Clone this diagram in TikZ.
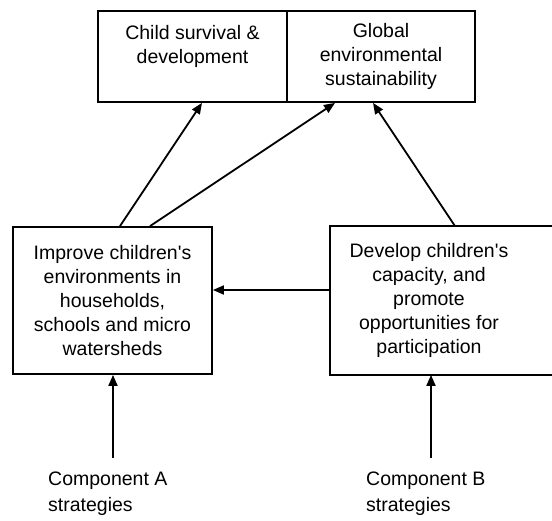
\documentclass[tikz,border=0pt]{standalone}
\usepackage{fontspec}
\setmainfont{Liberation Sans}
\usetikzlibrary{arrows.meta}
\tikzset{
  goalbox/.style={draw, line width=1.8pt, minimum height=91pt, inner sep=0pt,
    align=center, font=\fontsize{19.5}{24}\selectfont},
  aimbox/.style={line width=1.8pt, minimum height=147pt, inner sep=0pt,
    align=center, font=\fontsize{19.5}{24}\selectfont},
  complabel/.style={anchor=north west, inner sep=0pt, align=left,
    font=\fontsize{19.5}{26}\selectfont},
  flow/.style={line width=1.8pt, -{Triangle[length=11pt,width=9pt]}}
}
\begin{document}
\begin{tikzpicture}[x=1pt,y=-1pt]
\useasboundingbox (0,0) rectangle (552,521);

\node[goalbox, minimum width=189pt] (child) at (192.5,56.5) {Child survival \&\\development\\\mbox{}};
\node[goalbox, minimum width=188pt] (global) at (381,56.5) {Global\\environmental\\sustainability};

\node[aimbox, draw, minimum width=199pt] (impA) at (112.5,300.5) {Improve children\textquotesingle s\\environments in\\households,\\schools and micro\\watersheds};
\node[aimbox, minimum width=196pt] (devB) at (429,300.5) {Develop children\textquotesingle s\\capacity, and\\promote\\opportunities for\\participation};
\draw[line width=1.8pt] ([xshift=24pt]devB.north east) -- (devB.north west)
  -- (devB.south west) -- ([xshift=24pt]devB.south east);

\node[complabel] (compA) at (48,472) {Component A\\strategies};
\node[complabel] (compB) at (366,472) {Component B\\strategies};
\coordinate (fromA) at (113,458);
\coordinate (fromB) at (431,458);

\draw[flow] ([xshift=7.5pt]impA.north) -- ([xshift=9.5pt]child.south);
\draw[flow] ([xshift=37.5pt]impA.north) -- ([xshift=-46pt]global.south);
\draw[flow] ([xshift=26pt]devB.north) -- ([xshift=-8pt]global.south);
\draw[flow] ([yshift=10.5pt]devB.west) -- ([yshift=10.5pt]impA.east);
\draw[flow] (fromA) -- (fromA |- impA.south);
\draw[flow] (fromB) -- (fromB |- devB.south);

\end{tikzpicture}
\end{document}
